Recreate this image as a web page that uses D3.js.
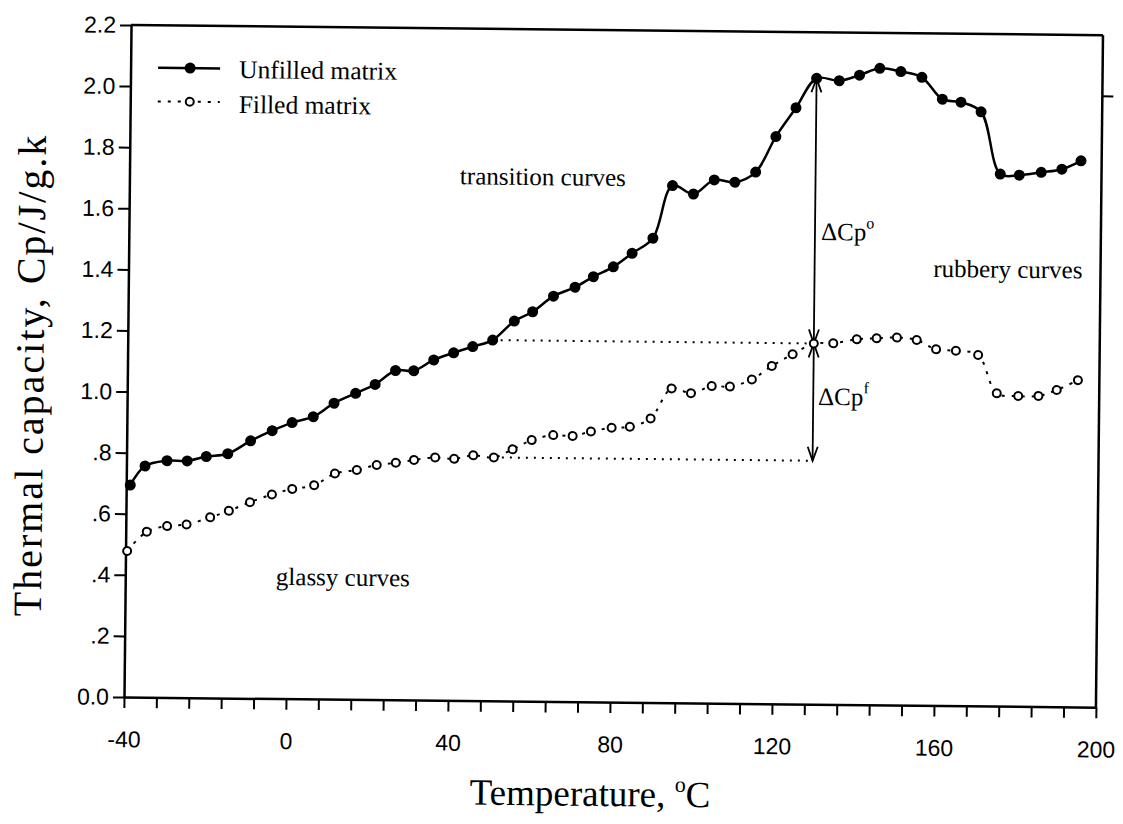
<!DOCTYPE html>
<html>
<head>
<meta charset="utf-8">
<script src="https://cdn.jsdelivr.net/npm/d3@7"></script>
<style>
  body { margin: 0; background: #fff; }
  .serif { font-family: "Liberation Serif", "Times New Roman", serif; }
  .sans { font-family: "Liberation Sans", Arial, sans-serif; }
</style>
</head>
<body>
<div id="chart"></div>
<script>

// temperature (C) and thermal capacity (J/g.k)
var unfilledT = [-39, -35.4, -30, -25, -20.3, -15, -9.4, -4.1, 0.8, 6, 11.1, 16.4, 21.2, 26.2, 30.7, 35.6,
  40.5, 45.2, 50.1, 55.4, 59.9, 65, 70.3, 74.8, 79.7, 84.3, 89.4, 94.1, 99.3, 104.4, 109.5, 114.6,
  119.5, 124.4, 129.4, 135, 140, 145, 150.2, 155.4, 160.5, 165.1, 170.1, 175, 179.7, 185.1, 190.2, 194.9];
var unfilledCp = [0.694, 0.757, 0.775, 0.775, 0.79, 0.80, 0.843, 0.877, 0.904, 0.924, 0.969, 1.002, 1.032, 1.078, 1.078, 1.114,
  1.138, 1.159, 1.181, 1.244, 1.275, 1.327, 1.357, 1.392, 1.425, 1.470, 1.520, 1.693, 1.666, 1.713, 1.706, 1.740,
  1.857, 1.952, 2.049, 2.042, 2.061, 2.084, 2.074, 2.056, 1.985, 1.976, 1.945, 1.742, 1.739, 1.749, 1.760, 1.788];

var filledT = [-39.6, -34.8, -29.8, -25, -19.2, -14.6, -9.4, -4, 1, 6.4, 11.5, 16.9, 21.8, 26.5, 31, 36.2,
  40.9, 45.6, 50.7, 55.3, 60, 65.3, 70.1, 74.6, 79.7, 84.2, 89.3, 94.4, 99.2, 104.3, 108.8, 114.2,
  119.1, 124.2, 129.4, 134.2, 140, 144.9, 149.9, 154.8, 159.6, 164.5, 170, 174.7, 180, 185, 189.5, 194.7];
var filledCp = [0.478, 0.542, 0.561, 0.567, 0.591, 0.613, 0.642, 0.668, 0.687, 0.700, 0.739, 0.751, 0.768, 0.776, 0.786, 0.795,
  0.791, 0.803, 0.797, 0.824, 0.855, 0.872, 0.870, 0.885, 0.898, 0.902, 0.930, 1.029, 1.014, 1.038, 1.037, 1.061,
  1.106, 1.145, 1.181, 1.182, 1.196, 1.200, 1.203, 1.196, 1.166, 1.162, 1.149, 1.024, 1.016, 1.017, 1.037, 1.070];

var xLabels = [-40, 0, 40, 80, 120, 160, 200];
var yTicks = [0, 0.2, 0.4, 0.6, 0.8, 1.0, 1.2, 1.4, 1.6, 1.8, 2.0, 2.2];

// delta Cp construction: measured at 130 C, baseline taken at 50 C
var deltaAt = 129.4;
var baseAt = 50.1;

var width = 972,
  height = 672;

var svg = d3.select("#chart").append("svg")
  .attr("width", 1123)
  .attr("height", 824);

// the original page was scanned a little crooked
var g = svg.append("g")
  .attr("transform", "translate(124,697) rotate(0.6) translate(0," + (-height) + ")");

var x = d3.scaleLinear().domain([-40, 200]).range([0, width]);
var y = d3.scaleLinear().domain([0, 2.2]).range([height, 0]);

// axes
var xAxis = g.append("g")
  .attr("class", "sans")
  .attr("transform", "translate(0," + height + ")")
  .call(d3.axisBottom(x)
    .tickValues(d3.range(-40, 201, 8))
    .tickSize(11)
    .tickSizeOuter(0)
    .tickPadding(23)
    .tickFormat(function(d) { return xLabels.indexOf(d) >= 0 ? d : ""; }));

var yAxis = g.append("g")
  .attr("class", "sans")
  .call(d3.axisLeft(y)
    .tickValues(yTicks)
    .tickSize(11)
    .tickSizeOuter(0)
    .tickPadding(4)
    .tickFormat(function(d) {
      var s = d3.format(".1f")(d);
      return (d > 0 && d < 1) ? s.slice(1) : s;
    }));

[xAxis, yAxis].forEach(function(a) {
  a.attr("font-family", null).attr("font-size", null);
  a.select(".domain").attr("stroke-width", 2.5);
  a.selectAll(".tick line").attr("stroke-width", 2);
  a.selectAll(".tick text").attr("font-size", 23).attr("fill", "#000");
});

// frame top and right
g.append("line")
  .attr("x1", 0).attr("x2", width).attr("y1", 0).attr("y2", 0)
  .attr("stroke", "#000").attr("stroke-width", 2.5);
g.append("line")
  .attr("x1", width).attr("x2", width).attr("y1", 0).attr("y2", height)
  .attr("stroke", "#000").attr("stroke-width", 2.5);
g.append("line")
  .attr("x1", width).attr("x2", width + 11).attr("y1", y(2.0)).attr("y2", y(2.0))
  .attr("stroke", "#000").attr("stroke-width", 2);

// curves
var line = d3.line()
  .x(function(d) { return x(d[0]); })
  .y(function(d) { return y(d[1]); })
  .curve(d3.curveCatmullRom.alpha(0.5));

var unfilled = d3.zip(unfilledT, unfilledCp);
var filled = d3.zip(filledT, filledCp);

var baseTop = unfilledCp[unfilledT.indexOf(baseAt)];
var baseLow = filledCp[filledT.indexOf(baseAt + 0.6)];
var peak = unfilledCp[unfilledT.indexOf(deltaAt)];
var mid = filledCp[filledT.indexOf(deltaAt)];

// dotted construction lines
g.append("line")
  .attr("x1", x(baseAt)).attr("x2", x(deltaAt))
  .attr("y1", y(baseTop)).attr("y2", y(baseTop))
  .attr("stroke", "#000").attr("stroke-width", 2).attr("stroke-dasharray", "2,6");
g.append("line")
  .attr("x1", x(baseAt + 0.6)).attr("x2", x(deltaAt))
  .attr("y1", y(baseLow)).attr("y2", y(baseLow))
  .attr("stroke", "#000").attr("stroke-width", 2).attr("stroke-dasharray", "2,6");

g.append("path")
  .datum(filled)
  .attr("d", line)
  .attr("fill", "none")
  .attr("stroke", "#000")
  .attr("stroke-width", 2)
  .attr("stroke-dasharray", "3,7");

g.append("path")
  .datum(unfilled)
  .attr("d", line)
  .attr("fill", "none")
  .attr("stroke", "#000")
  .attr("stroke-width", 2.5);

// double arrows
function arrowHead(px, py, dir) {
  return "M" + (px - 5) + "," + (py - dir * 14) + "L" + px + "," + py + "L" + (px + 5) + "," + (py - dir * 14);
}
var ax = x(deltaAt);
[[peak, mid], [mid, baseLow]].forEach(function(s) {
  var y1 = y(s[0]), y2 = y(s[1]);
  g.append("line")
    .attr("x1", ax).attr("x2", ax).attr("y1", y1).attr("y2", y2)
    .attr("stroke", "#000").attr("stroke-width", 1.8);
  g.append("path").attr("d", arrowHead(ax, y1, -1))
    .attr("fill", "none").attr("stroke", "#000").attr("stroke-width", 1.8);
  g.append("path").attr("d", arrowHead(ax, y2, 1))
    .attr("fill", "none").attr("stroke", "#000").attr("stroke-width", 1.8);
});

// markers
g.selectAll(".filled-dot")
  .data(filled)
  .enter().append("circle")
  .attr("class", "filled-dot")
  .attr("cx", function(d) { return x(d[0]); })
  .attr("cy", function(d) { return y(d[1]); })
  .attr("r", 4)
  .attr("fill", "#fff")
  .attr("stroke", "#000")
  .attr("stroke-width", 2);

g.selectAll(".unfilled-dot")
  .data(unfilled)
  .enter().append("circle")
  .attr("class", "unfilled-dot")
  .attr("cx", function(d) { return x(d[0]); })
  .attr("cy", function(d) { return y(d[1]); })
  .attr("r", 5.5)
  .attr("fill", "#000");

// legend
var legend = g.append("g").attr("class", "serif");
legend.append("line")
  .attr("x1", x(-33.2)).attr("x2", x(-17.9)).attr("y1", y(2.061)).attr("y2", y(2.061))
  .attr("stroke", "#000").attr("stroke-width", 2.5);
legend.append("circle")
  .attr("cx", x(-25.3)).attr("cy", y(2.061)).attr("r", 5.5).attr("fill", "#000");
legend.append("text")
  .attr("x", x(-13.2)).attr("y", y(2.03))
  .attr("font-size", 25.5)
  .text("Unfilled matrix");
legend.append("line")
  .attr("x1", x(-33.2)).attr("x2", x(-17.9)).attr("y1", y(1.951)).attr("y2", y(1.951))
  .attr("stroke", "#000").attr("stroke-width", 2).attr("stroke-dasharray", "3,7");
legend.append("circle")
  .attr("cx", x(-25.3)).attr("cy", y(1.951)).attr("r", 4)
  .attr("fill", "#fff").attr("stroke", "#000").attr("stroke-width", 2);
legend.append("text")
  .attr("x", x(-13.2)).attr("y", y(1.916))
  .attr("font-size", 25.5)
  .text("Filled matrix");

// region notes
var notes = g.append("g").attr("class", "serif").attr("font-size", 25);
notes.append("text").attr("x", x(41.6)).attr("y", y(1.69)).text("transition curves");
notes.append("text").attr("x", x(-2.8)).attr("y", y(0.372)).text("glassy curves");
notes.append("text").attr("x", x(158.7)).attr("y", y(1.403)).text("rubbery curves");

var d1 = notes.append("text").attr("x", x(130.9)).attr("y", y(1.52));
d1.append("tspan").text("\u0394Cp");
d1.append("tspan").attr("dy", -12).attr("font-size", 16).text("o");
var d2 = notes.append("text").attr("x", x(130.6)).attr("y", y(0.98));
d2.append("tspan").text("\u0394Cp");
d2.append("tspan").attr("dy", -12).attr("font-size", 16).text("f");

// axis titles
var xt = g.append("text")
  .attr("class", "serif")
  .attr("x", 467).attr("y", height + 104)
  .attr("text-anchor", "middle")
  .attr("font-size", 37);
xt.append("tspan").text("Temperature, ");
xt.append("tspan").attr("dy", -15).attr("font-size", 22).text("o");
xt.append("tspan").attr("dy", 15).text("C");

g.append("text")
  .attr("class", "serif")
  .attr("transform", "translate(-84," + 351 + ") rotate(-90)")
  .attr("text-anchor", "middle")
  .attr("font-size", 40)
  .attr("letter-spacing", 2)
  .text("Thermal capacity, Cp/J/g.k");

</script>
</body>
</html>
